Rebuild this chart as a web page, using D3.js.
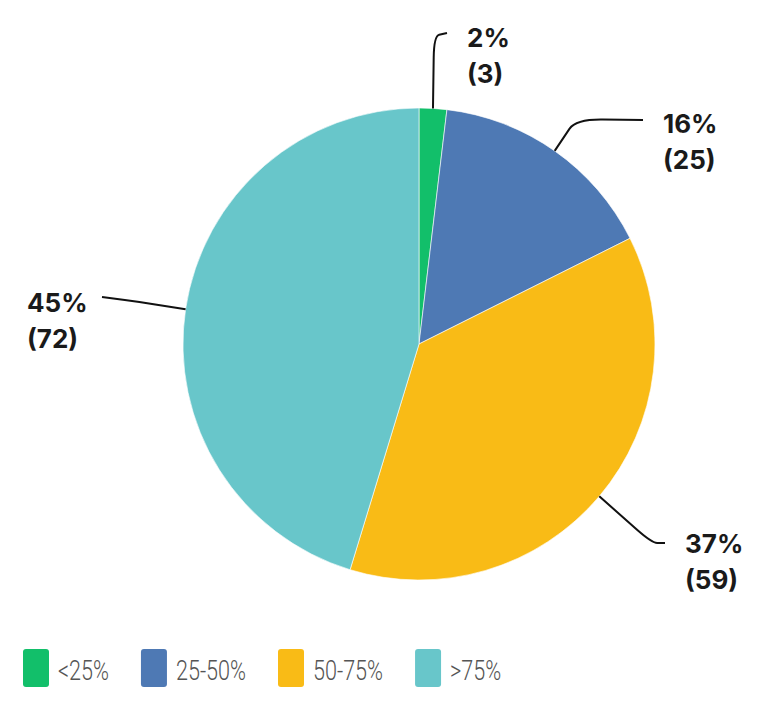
<!DOCTYPE html>
<html>
<head>
<meta charset="utf-8">
<script src="https://cdn.jsdelivr.net/npm/d3@7"></script>
<style>
    body { margin: 0; background: #fff; }
    #chart { width: 773px; height: 713px; }
</style>
</head>
<body>
<div id="chart"></div>
<script>
const categories = ["<25%", "25-50%", "50-75%", ">75%"];
const counts = [3, 25, 59, 72];
const percentLabels = ["2%", "16%", "37%", "45%"];
const colors = ["#12bf6a", "#4e79b4", "#f9bb16", "#68c6ca"];

// leader line layout: elbow + end points, text anchor
const leaders = [
    { elbow: [434, 36], end: [447, 33], tx: 467, ty: 47 },
    { elbow: [576, 119], end: [643, 120], tx: 663, ty: 133 },
    { elbow: [652, 543], end: [665, 543], tx: 685, ty: 553 },
    { elbow: [140, 302], end: [102, 297], tx: 27, ty: 312 },
];

document.addEventListener("DOMContentLoaded", () => {
    drawChart();
});

function drawChart() {
    const width = 773;
    const height = 713;
    const cx = 419;
    const cy = 344;
    const radius = 236;

    const svg = d3
        .select("#chart")
        .append("svg")
        .attr("width", width)
        .attr("height", height);

    const data = categories.map((c, i) => ({
        category: c,
        value: counts[i],
        pct: percentLabels[i],
        color: colors[i],
        leader: leaders[i],
    }));

    const pie = d3.pie().sort(null).value((d) => d.value);
    const arc = d3.arc().innerRadius(0).outerRadius(radius);
    const arcs = pie(data);

    const g = svg.append("g").attr("transform", `translate(${cx}, ${cy})`);

    g.selectAll("path")
        .data(arcs)
        .join("path")
        .attr("d", arc)
        .attr("fill", (d) => d.data.color)
        .attr("stroke", "rgba(255,255,255,0.6)")
        .attr("stroke-width", 1);

    // leader lines
    const lines = svg.append("g").attr("class", "leaders");
    arcs.forEach((a) => {
        const mid = (a.startAngle + a.endAngle) / 2;
        const sx = cx + radius * Math.sin(mid);
        const sy = cy - radius * Math.cos(mid);
        const [ex, ey] = a.data.leader.elbow;
        const [tx, ty] = a.data.leader.end;
        // straight run to near the elbow, then a soft bend
        const k = 0.7;
        const p = d3.path();
        p.moveTo(sx, sy);
        p.lineTo(sx + (ex - sx) * k, sy + (ey - sy) * k);
        p.quadraticCurveTo(ex, ey, ex + (tx - ex) * 0.4, ey + (ty - ey) * 0.4);
        p.lineTo(tx, ty);
        lines.append("path")
            .attr("d", p.toString())
            .attr("fill", "none")
            .attr("stroke", "#111")
            .attr("stroke-width", 2);
    });

    // labels
    const labels = svg.append("g").attr("class", "labels");
    arcs.forEach((a) => {
        const l = a.data.leader;
        const t = labels.append("text")
            .attr("x", l.tx)
            .attr("y", l.ty)
            .attr("font-family", "Inter, 'Open Sans', sans-serif")
            .attr("font-weight", 700)
            .attr("font-size", 26)
            .attr("fill", "#1a1a1a");
        t.append("tspan").attr("x", l.tx).text(a.data.pct);
        t.append("tspan").attr("x", l.tx).attr("dy", 36).text(`(${a.data.value})`);
    });

    // legend: flow layout, swatch + narrow light text
    const legend = svg.append("g").attr("class", "legend");
    let x = 23;
    data.forEach((d) => {
        const item = legend.append("g").attr("transform", `translate(${x}, 649)`);
        item.append("rect")
            .attr("width", 26)
            .attr("height", 38)
            .attr("rx", 3)
            .attr("fill", d.color);
        const txt = item.append("text")
            .attr("transform", "translate(35, 31) scale(0.8, 1)")
            .attr("font-family", "Roboto, sans-serif")
            .attr("font-weight", 300)
            .attr("font-size", 27)
            .attr("fill", "#555")
            .text(d.category);
        const w = txt.node().getComputedTextLength() * 0.8;
        x += 35 + w + 32;
    });
}
</script>
</body>
</html>
